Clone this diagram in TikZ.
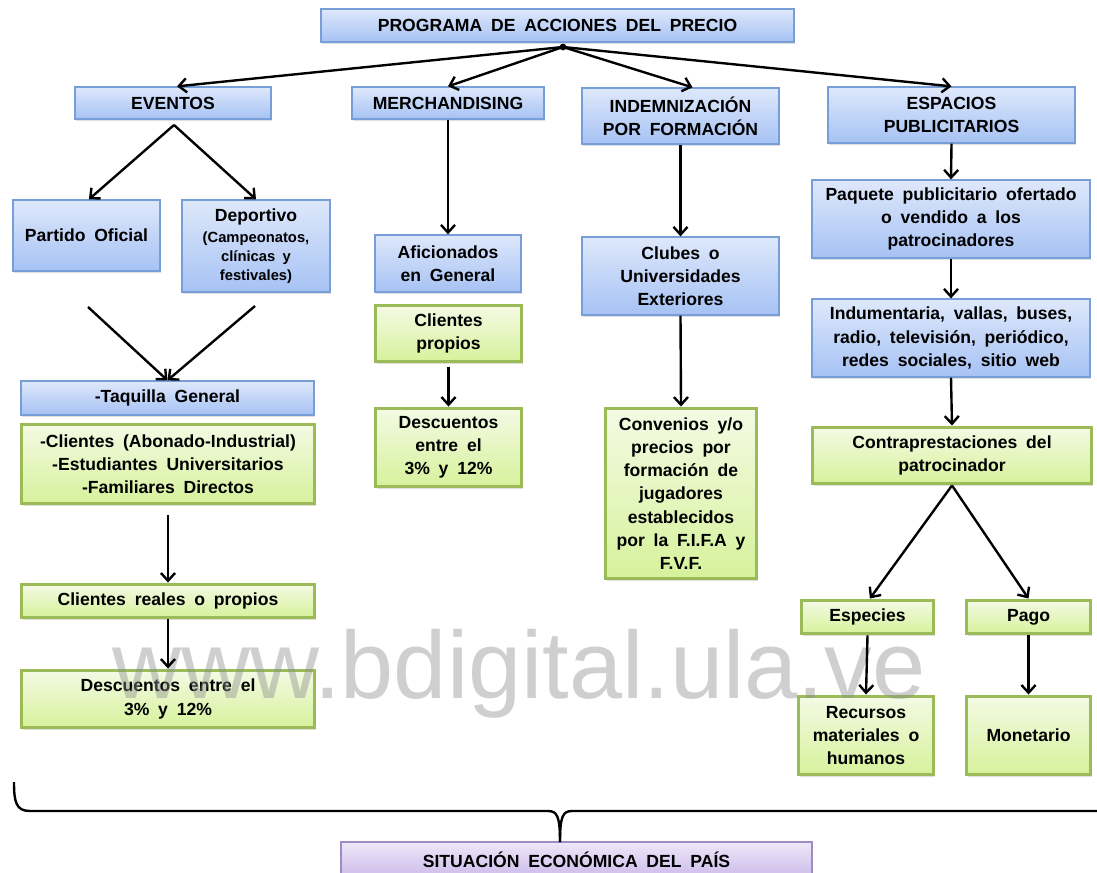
\documentclass[tikz,border=0pt]{standalone}
\usepackage{fontspec}
\setsansfont{Liberation Sans}[WordSpace=1.8]
\usepackage{tikz}
\usetikzlibrary{arrows.meta}
\usetikzlibrary{positioning}
\usetikzlibrary{shadows}
\definecolor{blue line}{RGB}{120,158,215}
\definecolor{blue top}{RGB}{222,232,251}
\definecolor{blue bottom}{RGB}{166,194,244}
\definecolor{green line}{RGB}{155,187,89}
\definecolor{green top}{RGB}{244,250,228}
\definecolor{green bottom}{RGB}{214,242,155}
\definecolor{lilac line}{RGB}{158,139,195}
\definecolor{lilac top}{RGB}{238,231,248}
\definecolor{lilac bottom}{RGB}{204,186,234}
\newcommand{\smallbox}{\fontsize{10.5}{13.5}\selectfont}
\tikzstyle{box}=[rectangle,align=center,inner sep=2pt,font=\sffamily\bfseries\fontsize{12.5}{16.5}\selectfont,drop shadow={shadow xshift=1pt,shadow yshift=-1.5pt,opacity=0.25}]
\tikzstyle{blue box}=[box,draw=blue line,line width=0.9pt,top color=blue top,bottom color=blue bottom]
\tikzstyle{green box}=[box,draw=green line,line width=2.8pt,top color=green top,bottom color=green bottom]

\begin{document}
\begin{tikzpicture}[
  x=0.025cm, y=-0.025cm,
  wh/.style 2 args={minimum width=#1*0.025cm,minimum height=#2*0.025cm},
  lilac box/.style={box,draw=lilac line,line width=0.9pt,top color=lilac top,bottom color=lilac bottom},
  link/.style={line width=1.7pt,-{Straight Barb[length=5.5pt,width=10pt]}},
  watermark/.style={font=\sffamily\fontsize{68}{68}\selectfont,text=black!45,text opacity=0.42,inner sep=0,anchor=base west},
]
\useasboundingbox (0,0) rectangle (1097,873);

% top level
\node[blue box,wh={473}{33}] (prog) at (557.5,25.5) {PROGRAMA DE ACCIONES DEL PRECIO};
\node[blue box,wh={196}{32}] (eventos) at (173,103) {EVENTOS};
\node[blue box,wh={192}{32}] (merch) at (448,103) {MERCHANDISING};
\node[blue box,wh={197}{56}] (indem) at (680.5,116) {INDEMNIZACIÓN\\POR FORMACIÓN};
\node[blue box,wh={247}{56}] (espacios) at (951.5,115) {ESPACIOS\\PUBLICITARIOS};

% eventos
\node[blue box,wh={147}{71}] (partido) at (86.5,235.5) {Partido Oficial};
\node[blue box,wh={148}{92}] (deportivo) at (256,246) {Deportivo\\[-2pt]\smallbox (Campeonatos,\\[-3pt]\smallbox clínicas y\\[-3pt]\smallbox festivales)};
\node[blue box,wh={293}{34}] (taquilla) at (167.5,398) {-Taquilla General};
\node[green box,wh={293}{79}] (grupos) at (168,464) {-Clientes (Abonado-Industrial)\\-Estudiantes Universitarios\\-Familiares Directos};
\node[green box,wh={293}{33}] (reales) at (168,601) {Clientes reales o propios};
\node[green box,wh={293}{57}] (desc eventos) at (168,699) {Descuentos entre el\\3\% y 12\%};

% merchandising
\node[blue box,wh={146}{57}] (aficionados) at (448,263.5) {Aficionados\\en General};
\node[green box,wh={146}{56}] (propios) at (448.5,333.5) {Clientes\\propios};
\node[green box,wh={146}{78}] (desc merch) at (448.5,447.5) {Descuentos\\entre el\\3\% y 12\%};

% indemnizacion
\node[blue box,wh={197}{78}] (clubes) at (680.5,276) {Clubes o\\Universidades\\Exteriores};
\node[green box,wh={151}{170}] (convenios) at (681,493.5) {Convenios y/o\\precios por\\formación de\\jugadores\\establecidos\\por la F.I.F.A y\\F.V.F.};

% espacios publicitarios
\node[blue box,wh={278}{78}] (paquete) at (951,219) {Paquete publicitario ofertado\\o vendido a los\\patrocinadores};
\node[blue box,wh={278}{78}] (indumentaria) at (951,338) {Indumentaria, vallas, buses,\\radio, televisión, periódico,\\redes sociales, sitio web};
\node[green box,wh={279}{56}] (contra) at (952,455.5) {Contraprestaciones del\\patrocinador};
\node[green box,wh={132}{33}] (especies) at (867.5,617) {Especies};
\node[green box,wh={124}{33}] (pago) at (1028.5,617) {Pago};
\node[green box,wh={135}{78}] (recursos) at (866,735.5) {Recursos\\materiales o\\humanos};
\node[green box,wh={124}{78}] (monetario) at (1028.5,735.5) {Monetario};

\node[lilac box,wh={471}{36}] (situacion) at (576.5,860) {SITUACIÓN ECONÓMICA DEL PAÍS};

\node[watermark] (wm) at (112,698) {www.bdigital.ula.ve};

\coordinate (hub) at (563,47);
\coordinate (split) at (174,125);
\coordinate (P) at (88,307);
\coordinate (D) at (255,306);
\fill (hub) circle[radius=2.4pt];

\draw[link] (hub) -- ([xshift=0.1cm]eventos.north);
\draw[link] (hub) -- (merch.north);
\draw[link] (hub) -- ([xshift=0.3cm]indem.north);
\draw[link] (hub) -- (espacios.north);

\draw[link] (split) -- ([xshift=0.06cm]partido.north);
\draw[link] (split) -- (deportivo.north);
\draw[link] (P) -- (taquilla.north);
\draw[link] (D) -- (taquilla.north);
\draw[link] ([yshift=-0.25cm]grupos.south) -- (reales.north);
\draw[link] (reales.south) -- (desc eventos.north);

\draw[link] (merch.south) -- (aficionados.north);
\draw[link] ([yshift=-0.1cm]propios.south) -- (desc merch.north);

\draw[link] (indem.south) -- (clubes.north);
\draw[link] (clubes.south) -- (convenios.north);

\draw[link] (espacios.south) -- (paquete.north);
\draw[link] (paquete.south) -- (indumentaria.north);
\draw[link] (indumentaria.south) -- (contra.north);
\draw[link] (contra.south) -- ([xshift=0.06cm]especies.north);
\draw[link] (contra.south) -- (pago.north);
\draw[link] (especies.south) -- (recursos.north);
\draw[link] (pago.south) -- (monetario.north);

% brace over the whole programme
\draw[line width=1.7pt] (14,782) .. controls (14,802) and (16,811) .. (30,811) -- (548,811)
  .. controls (557,811) and (560,816) .. (560,842);
\draw[line width=1.7pt] (560,842) .. controls (560,816) and (563,811) .. (572,811) -- (1097,811);
\end{tikzpicture}
\end{document}
